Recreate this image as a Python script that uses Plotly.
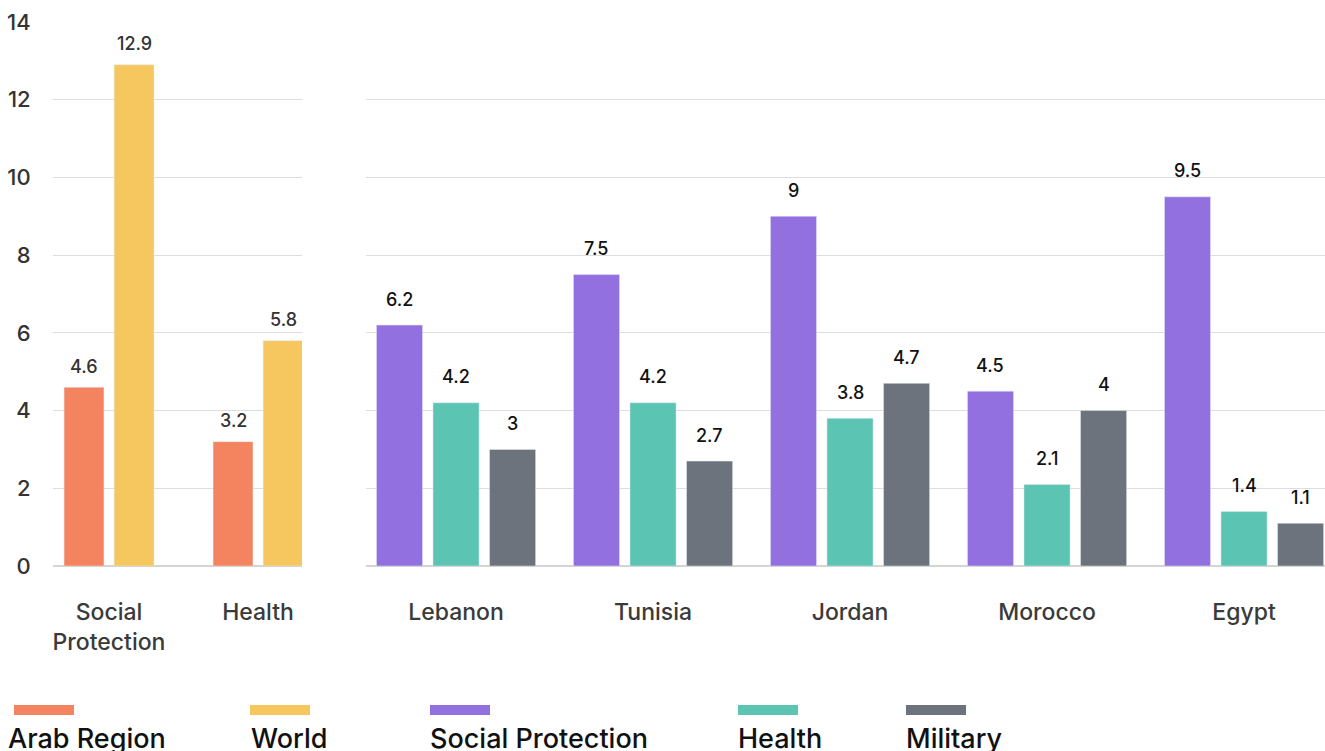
import plotly.graph_objects as go

# Left panel: regional averages
region_categories = ["Social<br>Protection", "Health"]
arab_region = [4.6, 3.2]
world = [12.9, 5.8]

# Right panel: country spending
countries = ["Lebanon", "Tunisia", "Jordan", "Morocco", "Egypt"]
social_protection = [6.2, 7.5, 9.0, 4.5, 9.5]
health = [4.2, 4.2, 3.8, 2.1, 1.4]
military = [3.0, 2.7, 4.7, 4.0, 1.1]

y_ticks = [0, 2, 4, 6, 8, 10, 12, 14]

C_ARAB = "#F4845F"
C_WORLD = "#F5C75E"
C_SP = "#9370E0"
C_HEALTH = "#5BC4B3"
C_MIL = "#6C737C"

FONT = "Inter"

fig = go.Figure()

# bar geometry (category units)
LW = 0.268
left_offsets = [-0.302, 0.034]
RW = 0.234
right_offsets = [-0.404, -0.117, 0.170]

for vals, col, off in [(arab_region, C_ARAB, left_offsets[0]), (world, C_WORLD, left_offsets[1])]:
    fig.add_trace(go.Bar(x=region_categories, y=vals, marker_color=col, width=LW, offset=off,
                         xaxis="x", yaxis="y", showlegend=False, hoverinfo="x+y"))

for vals, col, off in [(social_protection, C_SP, right_offsets[0]),
                       (health, C_HEALTH, right_offsets[1]),
                       (military, C_MIL, right_offsets[2])]:
    fig.add_trace(go.Bar(x=countries, y=vals, marker_color=col, width=RW, offset=off,
                         xaxis="x2", yaxis="y2", showlegend=False, hoverinfo="x+y"))

annotations = []


# value labels above each bar
def add_labels(vals, offset, width, xref, yref, shift, color):
    for i, v in enumerate(vals):
        annotations.append(dict(x=i + offset + width / 2, y=v, xref=xref, yref=yref,
                                text=f"{v:g}", showarrow=False, yshift=shift,
                                font=dict(family=FONT, size=18, color=color, weight=500)))


add_labels(arab_region, left_offsets[0], LW, "x", "y", 21, "#333333")
add_labels(world, left_offsets[1], LW, "x", "y", 21, "#333333")
add_labels(social_protection, right_offsets[0], RW, "x2", "y2", 26, "#111111")
add_labels(health, right_offsets[1], RW, "x2", "y2", 26, "#111111")
add_labels(military, right_offsets[2], RW, "x2", "y2", 26, "#111111")

# custom legend along the bottom: (label, colour, swatch x, text x)
legend_items = [("Arab Region", C_ARAB, 14, 6), ("World", C_WORLD, 250, 249),
                ("Social Protection", C_SP, 430, 428), ("Health", C_HEALTH, 738, 736),
                ("Military", C_MIL, 906, 904)]
W, H = 1325, 751
ML, MR, MT, MB = 53, 0, 22, 185
pw, ph = W - ML - MR, H - MT - MB


def px_x(x):
    return (x - ML) / pw


def px_y(y):
    return (H - MB - y) / ph


shapes = []
for name, col, x0, tx in legend_items:
    shapes.append(dict(type="rect", xref="paper", yref="paper",
                       x0=px_x(x0), x1=px_x(x0 + 60), y0=px_y(715), y1=px_y(705),
                       fillcolor=col, line=dict(width=0)))
    annotations.append(dict(x=px_x(tx), y=px_y(720), xref="paper", yref="paper",
                            text=name, showarrow=False, xanchor="left", yanchor="top",
                            font=dict(family=FONT, size=27, color="#111111", weight=500)))

axis_common = dict(showgrid=False, showline=False, zeroline=False, type="category",
                   tickfont=dict(family=FONT, size=23, color="#3a3a3a", weight=500),
                   ticks="outside", ticklen=0, ticklabelstandoff=25, fixedrange=True)
yaxis_common = dict(range=[0, 14], tickvals=y_ticks, showgrid=True, gridcolor="#dddddd",
                    gridwidth=1, zeroline=True, zerolinecolor="#d4d4d4", zerolinewidth=2,
                    showline=False, fixedrange=True)

fig.update_layout(
    width=W, height=H,
    margin=dict(l=ML, r=MR, t=MT, b=MB),
    paper_bgcolor="white", plot_bgcolor="white",
    barmode="overlay",
    xaxis=dict(domain=[0, (302 - ML) / pw], range=[-0.376, 1.295], **axis_common),
    xaxis2=dict(domain=[(366 - ML) / pw, 1], range=[-0.457, 4.411], **axis_common),
    yaxis=dict(anchor="x", showticklabels=True, ticks="outside", ticklen=0, ticklabelstandoff=17,
               tickfont=dict(family=FONT, size=22, color="#333333", weight=500), **yaxis_common),
    yaxis2=dict(anchor="x2", showticklabels=False, **yaxis_common),
    annotations=annotations,
    shapes=shapes,
    showlegend=False,
)

fig.write_html("out.html")
